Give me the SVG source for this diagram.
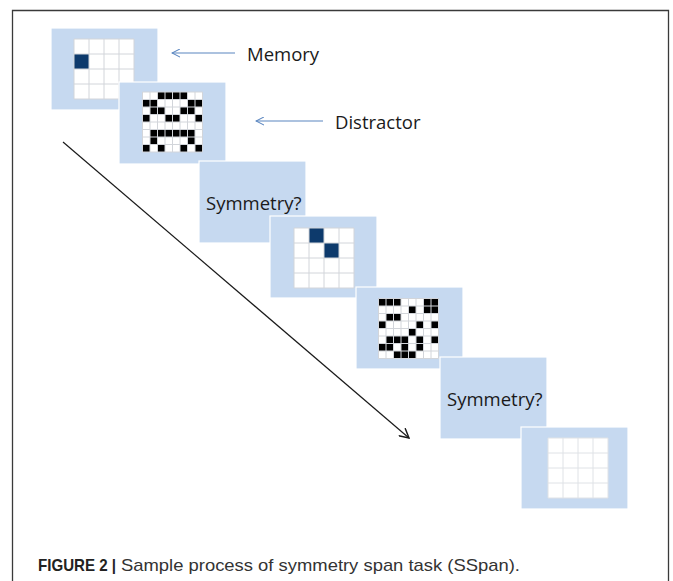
<svg xmlns="http://www.w3.org/2000/svg" width="673" height="581" viewBox="0 0 673 581">
<style>
.panel{fill:#c6d9f0;stroke:#ffffff;stroke-width:1.2}
.cells{fill:#ffffff}
.gl{fill:none;stroke:#d2d5da;stroke-width:1}
.blk{fill:#000000}
.mem{fill:#0d3a6c}
.lbl{font-family:"Open Sans","Liberation Sans",sans-serif;font-size:18.5px;fill:#1a1a1a}
.ptr{fill:none;stroke:#5b86c0;stroke-width:1.2}
.main{fill:none;stroke:#1a1a1a;stroke-width:1.2}
.cap{font-family:"Liberation Sans",Arial,sans-serif;font-size:17px}
</style>
<defs>
<path id="g4" d="M0,0H60M0,15H60M0,30H60M0,45H60M0,60H60M0,0V60M15,0V60M30,0V60M45,0V60M60,0V60"/>
<path id="g8" d="M0,0H60M0,7.5H60M0,15H60M0,22.5H60M0,30H60M0,37.5H60M0,45H60M0,52.5H60M0,60H60M0,0V60M7.5,0V60M15,0V60M22.5,0V60M30,0V60M37.5,0V60M45,0V60M52.5,0V60M60,0V60"/>
<marker id="ahBlue" viewBox="0 0 10 10" refX="1" refY="5" markerWidth="9" markerHeight="9" markerUnits="userSpaceOnUse" orient="auto">
<path d="M10,0.5 L1,5 L10,9.5" fill="none" stroke="#5b86c0" stroke-width="1.2"/>
</marker>
<marker id="ahBlack" viewBox="0 0 10 10" refX="9" refY="5" markerWidth="11" markerHeight="11" markerUnits="userSpaceOnUse" orient="auto">
<path d="M0.5,0.5 L9,5 L0.5,9.5" fill="none" stroke="#1a1a1a" stroke-width="1.3"/>
</marker>
</defs>
<rect x="0" y="0" width="673" height="581" fill="#ffffff"/>
<path d="M12.5,590V10.5H668.5V590" fill="none" stroke="#3a3a3a" stroke-width="1.3"/>

<g id="connectors">
<line class="main" x1="63" y1="142" x2="409" y2="438" marker-end="url(#ahBlack)"/>
<line class="ptr" x1="172" y1="53" x2="235" y2="53" marker-start="url(#ahBlue)"/>
<line class="ptr" x1="256" y1="121" x2="323" y2="121" marker-start="url(#ahBlue)"/>
</g>

<g id="memory1">
<rect class="panel" x="51" y="28" width="107" height="82"/>
<rect class="cells" x="74" y="39" width="60" height="60"/>
<rect class="mem" x="74" y="54" width="15" height="15"/>
<use href="#g4" x="74" y="39" class="gl"/>
</g>

<g id="distractor1">
<rect class="panel" x="119" y="82" width="107" height="82"/>
<g transform="translate(142.5,92)">
<rect class="cells" x="0" y="0" width="60" height="60"/>
<g class="blk">
<rect x="15" y="0" width="30" height="7.5"/>
<rect x="0" y="7.5" width="15" height="7.5"/><rect x="45" y="7.5" width="15" height="7.5"/>
<rect x="7.5" y="15" width="15" height="7.5"/><rect x="37.5" y="15" width="15" height="7.5"/>
<rect x="0" y="22.5" width="7.5" height="7.5"/><rect x="22.5" y="22.5" width="15" height="7.5"/><rect x="52.5" y="22.5" width="7.5" height="7.5"/>
<rect x="7.5" y="37.5" width="45" height="7.5"/>
<rect x="7.5" y="45" width="7.5" height="7.5"/><rect x="45" y="45" width="7.5" height="7.5"/>
<rect x="0" y="52.5" width="7.5" height="7.5"/><rect x="15" y="52.5" width="7.5" height="7.5"/><rect x="37.5" y="52.5" width="7.5" height="7.5"/><rect x="52.5" y="52.5" width="7.5" height="7.5"/>
</g>
<use href="#g8" class="gl"/>
</g>
</g>

<g id="symmetry1">
<rect class="panel" x="199" y="161" width="107" height="82"/>
<text class="lbl" x="206" y="210">Symmetry?</text>
</g>

<g id="memory2">
<rect class="panel" x="270" y="216" width="107" height="82"/>
<rect class="cells" x="294" y="228" width="60" height="60"/>
<rect class="mem" x="309" y="228" width="15" height="15"/>
<rect class="mem" x="324" y="243" width="15" height="15"/>
<use href="#g4" x="294" y="228" class="gl"/>
</g>

<g id="distractor2">
<rect class="panel" x="356" y="287" width="107" height="82"/>
<g transform="translate(378.5,298.5)">
<rect class="cells" x="0" y="0" width="60" height="60"/>
<g class="blk">
<rect x="0" y="0" width="22.5" height="7.5"/><rect x="45" y="0" width="15" height="7.5"/>
<rect x="30" y="7.5" width="7.5" height="7.5"/><rect x="45" y="7.5" width="15" height="7.5"/>
<rect x="7.5" y="15" width="15" height="7.5"/>
<rect x="0" y="22.5" width="7.5" height="7.5"/><rect x="37.5" y="22.5" width="7.5" height="7.5"/><rect x="52.5" y="22.5" width="7.5" height="7.5"/>
<rect x="30" y="30" width="7.5" height="7.5"/>
<rect x="7.5" y="37.5" width="22.5" height="7.5"/><rect x="37.5" y="37.5" width="7.5" height="7.5"/><rect x="52.5" y="37.5" width="7.5" height="7.5"/>
<rect x="0" y="45" width="15" height="7.5"/><rect x="22.5" y="45" width="7.5" height="7.5"/><rect x="37.5" y="45" width="7.5" height="7.5"/>
<rect x="15" y="52.5" width="22.5" height="7.5"/>
</g>
<use href="#g8" class="gl"/>
</g>
</g>

<g id="symmetry2">
<rect class="panel" x="440" y="357" width="107" height="82"/>
<text class="lbl" x="447" y="406">Symmetry?</text>
</g>

<g id="memory3">
<rect class="panel" x="521" y="427" width="107" height="82"/>
<rect class="cells" x="548" y="438" width="60" height="60"/>
<use href="#g4" x="548" y="438" class="gl" style="stroke:#dfe2e6"/>
</g>

<g id="label-memory">
<text class="lbl" x="247" y="61">Memory</text>
</g>
<g id="label-distractor">
<text class="lbl" x="335" y="129">Distractor</text>
</g>

<g id="caption">
<text class="cap" x="38" y="571" font-weight="bold" fill="#222222" textLength="78" lengthAdjust="spacingAndGlyphs">FIGURE 2 |</text>
<text class="cap" x="121" y="571" fill="#333333" textLength="399" lengthAdjust="spacingAndGlyphs">Sample process of symmetry span task (SSpan).</text>
</g>
</svg>
